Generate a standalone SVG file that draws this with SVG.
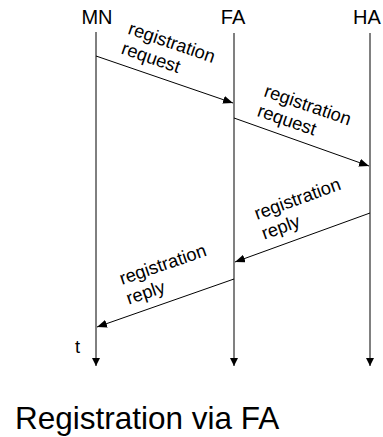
<svg xmlns="http://www.w3.org/2000/svg" width="383" height="437" viewBox="0 0 383 437">
  <style>
    .head { font-family: "Liberation Sans", Arial, sans-serif; font-size: 20px; fill: #000; text-anchor: middle; }
    .msg { font-family: "Liberation Sans", Arial, sans-serif; font-size: 18.3px; fill: #000; }
    .title { font-family: "Liberation Sans", Arial, sans-serif; font-size: 31.5px; fill: #000; }
    .life-mn { stroke: #000; stroke-width: 1; fill: none; }
    .life-agent { stroke: #808080; stroke-width: 2; fill: none; }
    .message { stroke: #000; stroke-width: 1; fill: none; marker-end: url(#arrow); }
  </style>
  <defs>
    <marker id="arrow" viewBox="0 0 10 8" refX="10" refY="4" markerWidth="10" markerHeight="8" markerUnits="userSpaceOnUse" orient="auto">
      <path d="M0,0 L10,4 L0,8 z" fill="#000"/>
    </marker>
    <marker id="timeArrow" viewBox="0 0 8 8" refX="4" refY="8" markerWidth="8" markerHeight="8" markerUnits="userSpaceOnUse" orient="0">
      <path d="M0,0 L8,0 L4,8 z" fill="#000"/>
    </marker>
  </defs>

  <!-- mobile node -->
  <g id="mn">
    <text class="head" x="97" y="24">MN</text>
    <line class="life-mn" x1="96" y1="32" x2="96" y2="366" marker-end="url(#timeArrow)"/>
    <text class="msg" x="75" y="352.5">t</text>
  </g>

  <!-- foreign agent -->
  <g id="fa">
    <text class="head" x="233" y="24">FA</text>
    <line class="life-agent" x1="234" y1="33" x2="234" y2="366" marker-end="url(#timeArrow)"/>
  </g>

  <!-- home agent -->
  <g id="ha">
    <text class="head" x="367" y="24">HA</text>
    <line class="life-agent" x1="370" y1="33" x2="370" y2="366" marker-end="url(#timeArrow)"/>
  </g>

  <!-- messages -->
  <g id="connectors">
    <line class="message" x1="96" y1="56" x2="233" y2="103"/>
    <line class="message" x1="234" y1="118" x2="369" y2="166"/>
    <line class="message" x1="370" y1="213" x2="235" y2="262"/>
    <line class="message" x1="234" y1="279" x2="97" y2="327"/>
  </g>

  <g id="labels">
    <text class="msg" transform="translate(127,33.5) rotate(19)"><tspan x="0" y="0">registration</tspan><tspan x="0" dy="21">request</tspan></text>
    <text class="msg" transform="translate(263,96) rotate(19)"><tspan x="0" y="0">registration</tspan><tspan x="0" dy="21">request</tspan></text>
    <text class="msg" transform="translate(257,220) rotate(-20)"><tspan x="0" y="0">registration</tspan><tspan x="0" dy="21">reply</tspan></text>
    <text class="msg" transform="translate(122,285) rotate(-19)"><tspan x="0" y="0">registration</tspan><tspan x="0" dy="21">reply</tspan></text>
  </g>

  <text class="title" x="15" y="429">Registration via FA</text>
</svg>
